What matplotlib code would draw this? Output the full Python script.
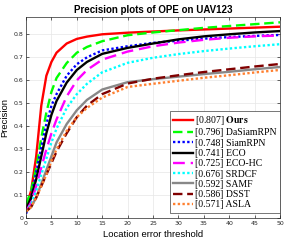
import matplotlib
matplotlib.use("Agg")
import matplotlib.pyplot as plt

# location error thresholds (px)
thr = [0, 1, 2, 3, 4, 5, 6, 8, 10, 12, 15, 20, 25, 30, 35, 40, 45, 50]

ours      = [0.05, 0.12, 0.27, 0.49, 0.62, 0.68, 0.72, 0.76, 0.78, 0.79, 0.80, 0.807, 0.812, 0.817, 0.821, 0.825, 0.829, 0.833]
dasiamrpn = [0.06, 0.12, 0.22, 0.35, 0.46, 0.55, 0.61, 0.675, 0.72, 0.745, 0.77, 0.796, 0.808, 0.818, 0.828, 0.836, 0.844, 0.852]
siamrpn   = [0.02, 0.09, 0.20, 0.31, 0.41, 0.49, 0.54, 0.62, 0.67, 0.70, 0.73, 0.748, 0.763, 0.772, 0.781, 0.788, 0.793, 0.797]
eco       = [0.04, 0.09, 0.17, 0.27, 0.37, 0.45, 0.51, 0.59, 0.645, 0.68, 0.715, 0.741, 0.760, 0.778, 0.791, 0.800, 0.808, 0.814]
eco_hc    = [0.03, 0.07, 0.14, 0.22, 0.30, 0.37, 0.43, 0.53, 0.60, 0.645, 0.69, 0.725, 0.748, 0.764, 0.776, 0.785, 0.791, 0.795]
srdcf     = [0.03, 0.06, 0.12, 0.19, 0.26, 0.33, 0.39, 0.48, 0.54, 0.585, 0.635, 0.676, 0.698, 0.714, 0.727, 0.738, 0.748, 0.757]
samf      = [0.03, 0.05, 0.09, 0.15, 0.21, 0.27, 0.33, 0.41, 0.47, 0.515, 0.56, 0.592, 0.605, 0.616, 0.627, 0.637, 0.648, 0.658]
dsst      = [0.03, 0.05, 0.09, 0.14, 0.19, 0.24, 0.29, 0.37, 0.44, 0.49, 0.54, 0.586, 0.607, 0.622, 0.636, 0.648, 0.660, 0.671]
asla      = [0.03, 0.05, 0.09, 0.14, 0.19, 0.25, 0.30, 0.38, 0.44, 0.48, 0.525, 0.571, 0.585, 0.598, 0.611, 0.622, 0.634, 0.645]

names  = ["Ours", "DaSiamRPN", "SiamRPN", "ECO", "ECO-HC", "SRDCF", "SAMF", "DSST", "ASLA"]
scores = [0.807, 0.796, 0.748, 0.741, 0.725, 0.676, 0.592, 0.586, 0.571]
series = [ours, dasiamrpn, siamrpn, eco, eco_hc, srdcf, samf, dsst, asla]

colors = ["#ff0000", "#00ff00", "#0000ff", "#000000", "#ff00ff", "#00ffff", "#888888", "#800000", "#ff8030"]
styles = ["-", (0, (4, 2)), (0, (1, 1)), "-", (0, (5, 2.5)), (0, (1, 1)), "-", (0, (4, 2)), (0, (1, 1))]

plt.rcParams["mathtext.fontset"] = "stix"

fig = plt.figure(figsize=(2.96, 2.47), dpi=100)
ax = fig.add_axes([0.088, 0.116, 0.858, 0.815])

for y, n, s, c, ls in zip(series, names, scores, colors, styles):
    if n == "Ours":
        lab = "[%.3f] $\\mathbf{Ours}$" % s
    else:
        lab = "[%.3f] %s" % (s, n)
    ax.plot(thr, y, color=c, linestyle=ls, linewidth=1.7, label=lab)

ax.set_xlim(0, 50)
ax.set_ylim(0, 0.875)
ax.set_xticks(range(0, 51, 5))
ax.set_yticks([0, 0.1, 0.2, 0.3, 0.4, 0.5, 0.6, 0.7, 0.8])
ax.set_yticklabels(["0", "0.1", "0.2", "0.3", "0.4", "0.5", "0.6", "0.7", "0.8"])
ax.tick_params(direction="in", top=True, right=True, length=2, width=0.5,
               labelsize=4.5, colors="#262626", pad=2)
ax.grid(True, color="#e6e6e6", linewidth=0.5)
ax.set_axisbelow(True)
for sp in ax.spines.values():
    sp.set_linewidth(0.5)
    sp.set_color("#262626")

ax.set_xlabel("Location error threshold", fontsize=6.8, family="Liberation Sans", labelpad=3)
ax.set_ylabel("Precision", fontsize=6.8, family="Liberation Sans", labelpad=3)
ax.set_title("Precision plots of OPE on UAV123", fontsize=7, fontweight="bold",
             family="Liberation Sans", pad=3)

leg = ax.legend(loc="lower right", bbox_to_anchor=(1.0, 0.028), borderaxespad=0,
                prop={"family": "Liberation Serif", "size": 7},
                handlelength=2.0, handletextpad=0.25, labelspacing=0.13,
                borderpad=0.35, fancybox=False, framealpha=1, edgecolor="#404040")
leg.get_frame().set_linewidth(0.5)

fig.savefig("out.png", dpi=100)
